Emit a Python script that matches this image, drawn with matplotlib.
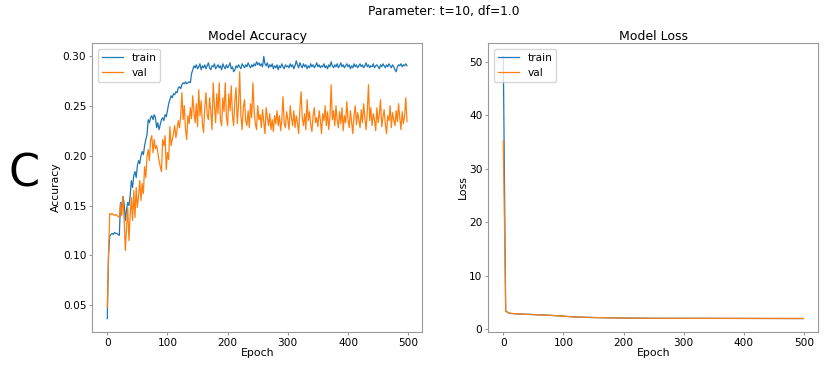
import numpy as np
import matplotlib
matplotlib.use('Agg')
import matplotlib.pyplot as plt

matplotlib.rcParams.update({'font.size': 7.6})

# accuracy, read every 2 epochs
epochs = np.arange(0, 500, 2)

train_acc = [
    0.0367, 0.100, 0.119, 0.121, 0.122, 0.121, 0.123, 0.122, 0.122, 0.121,
    0.120, 0.153, 0.148, 0.159, 0.152, 0.135, 0.146, 0.153, 0.150, 0.160,
    0.175, 0.168, 0.180, 0.184, 0.178, 0.190, 0.195, 0.192, 0.200, 0.204,
    0.201, 0.210, 0.216, 0.221, 0.236, 0.233, 0.238, 0.240, 0.236, 0.241,
    0.238, 0.228, 0.233, 0.226, 0.231, 0.236, 0.238, 0.235, 0.241, 0.239,
    0.245, 0.252, 0.256, 0.260, 0.258, 0.262, 0.261, 0.264, 0.263, 0.268,
    0.269, 0.267, 0.271, 0.273, 0.272, 0.274, 0.272, 0.273, 0.274, 0.273,
    0.282, 0.286, 0.290, 0.288, 0.291, 0.287, 0.289, 0.292, 0.286, 0.290,
    0.288, 0.291, 0.287, 0.290, 0.293, 0.288, 0.286, 0.290, 0.289, 0.292,
    0.287, 0.289, 0.291, 0.288, 0.290, 0.286, 0.292, 0.289, 0.287, 0.291,
    0.288, 0.290, 0.293, 0.287, 0.289, 0.284, 0.286, 0.290, 0.288, 0.291,
    0.289, 0.287, 0.292, 0.290, 0.288, 0.291, 0.289, 0.293, 0.290, 0.288,
    0.291, 0.289, 0.292, 0.290, 0.294, 0.291, 0.293, 0.290, 0.292, 0.289,
    0.2994, 0.292, 0.290, 0.293, 0.288, 0.291, 0.289, 0.292, 0.287, 0.290,
    0.288, 0.291, 0.286, 0.290, 0.288, 0.292, 0.289, 0.287, 0.291, 0.289,
    0.290, 0.288, 0.292, 0.289, 0.291, 0.287, 0.290, 0.295, 0.291, 0.288,
    0.293, 0.290, 0.288, 0.292, 0.289, 0.291, 0.287, 0.290, 0.288, 0.292,
    0.289, 0.291, 0.288, 0.290, 0.293, 0.289, 0.291, 0.288, 0.290, 0.289,
    0.292, 0.288, 0.290, 0.287, 0.291, 0.289, 0.294, 0.290, 0.288, 0.291,
    0.289, 0.292, 0.288, 0.290, 0.293, 0.289, 0.291, 0.288, 0.290, 0.292,
    0.289, 0.291, 0.287, 0.290, 0.288, 0.292, 0.289, 0.291, 0.288, 0.290,
    0.292, 0.289, 0.291, 0.288, 0.290, 0.293, 0.289, 0.291, 0.288, 0.290,
    0.289, 0.292, 0.288, 0.290, 0.291, 0.289, 0.287, 0.291, 0.289, 0.292,
    0.290, 0.288, 0.291, 0.289, 0.292, 0.290, 0.288, 0.291, 0.289, 0.286,
    0.284, 0.289, 0.291, 0.290, 0.292, 0.289, 0.291, 0.290, 0.292, 0.290,
]

val_acc = [
    0.048, 0.098, 0.142, 0.141, 0.142, 0.141, 0.140, 0.141, 0.140, 0.139,
    0.138, 0.152, 0.140, 0.159, 0.135, 0.105, 0.128, 0.148, 0.115, 0.140,
    0.158, 0.135, 0.165, 0.138, 0.168, 0.148, 0.160, 0.175, 0.155, 0.172,
    0.162, 0.189, 0.178, 0.199, 0.206, 0.195, 0.216, 0.220, 0.203, 0.216,
    0.207, 0.210, 0.203, 0.195, 0.189, 0.184, 0.216, 0.210, 0.220, 0.186,
    0.203, 0.196, 0.229, 0.210, 0.216, 0.222, 0.230, 0.218, 0.226, 0.235,
    0.228, 0.240, 0.263, 0.236, 0.250, 0.226, 0.216, 0.240, 0.232, 0.248,
    0.237, 0.260, 0.244, 0.233, 0.252, 0.229, 0.266, 0.240, 0.255, 0.232,
    0.223, 0.248, 0.263, 0.241, 0.236, 0.258, 0.245, 0.226, 0.273, 0.250,
    0.233, 0.262, 0.242, 0.273, 0.236, 0.230, 0.258, 0.244, 0.273, 0.238,
    0.230, 0.262, 0.245, 0.270, 0.240, 0.230, 0.255, 0.268, 0.232, 0.250,
    0.284, 0.240, 0.226, 0.248, 0.256, 0.235, 0.230, 0.245, 0.228, 0.252,
    0.238, 0.273, 0.245, 0.232, 0.226, 0.250, 0.236, 0.241, 0.228, 0.246,
    0.234, 0.222, 0.248, 0.238, 0.230, 0.242, 0.226, 0.236, 0.224, 0.240,
    0.232, 0.245, 0.230, 0.240, 0.225, 0.236, 0.259, 0.232, 0.228, 0.244,
    0.236, 0.226, 0.250, 0.238, 0.230, 0.245, 0.228, 0.240, 0.233, 0.222,
    0.246, 0.264, 0.238, 0.230, 0.242, 0.226, 0.256, 0.235, 0.244, 0.231,
    0.224, 0.240, 0.248, 0.233, 0.238, 0.229, 0.245, 0.236, 0.222, 0.242,
    0.235, 0.250, 0.230, 0.244, 0.226, 0.239, 0.271, 0.236, 0.245, 0.230,
    0.250, 0.236, 0.228, 0.244, 0.232, 0.248, 0.225, 0.240, 0.233, 0.254,
    0.236, 0.228, 0.245, 0.234, 0.222, 0.240, 0.250, 0.231, 0.243, 0.236,
    0.228, 0.246, 0.233, 0.252, 0.238, 0.226, 0.244, 0.271, 0.235, 0.248,
    0.230, 0.242, 0.236, 0.225, 0.248, 0.233, 0.241, 0.256, 0.229, 0.238,
    0.246, 0.232, 0.222, 0.240, 0.235, 0.250, 0.228, 0.243, 0.236, 0.230,
    0.245, 0.234, 0.252, 0.238, 0.226, 0.244, 0.232, 0.240, 0.258, 0.234,
]

# loss
loss_epochs = [0, 4, 10, 20, 40, 60, 80, 100, 120, 150, 200, 250, 300, 400, 499]
train_loss = [51.0, 3.4, 3.0, 2.9, 2.8, 2.7, 2.6, 2.45, 2.3, 2.2, 2.1, 2.05, 2.05, 2.03, 2.0]
val_loss = [35.3, 3.4, 3.0, 2.9, 2.8, 2.7, 2.6, 2.45, 2.3, 2.2, 2.1, 2.06, 2.05, 2.04, 2.03]

fig = plt.figure(figsize=(8.3, 3.66), dpi=100)
ax1 = fig.add_axes([0.1112, 0.0937, 0.3972, 0.788])
ax2 = fig.add_axes([0.5883, 0.0937, 0.3976, 0.788])

ax1.plot(epochs, train_acc, lw=0.9, label='train')
ax1.plot(epochs, val_acc, lw=0.9, label='val')
ax1.set_title('Model Accuracy', fontsize=9, pad=2.5)
ax1.set_xlabel('Epoch', fontsize=7.8, labelpad=0)
ax1.set_ylabel('Accuracy', fontsize=7.8, labelpad=1)
ax1.legend(loc='upper left', fontsize=7.6)

ax2.plot(loss_epochs, train_loss, lw=0.9, label='train')
ax2.plot(loss_epochs, val_loss, lw=0.9, label='val')
ax2.set_title('Model Loss', fontsize=9, pad=2.5)
ax2.set_xlabel('Epoch', fontsize=7.8, labelpad=0)
ax2.set_ylabel('Loss', fontsize=7.8, labelpad=1)
ax2.legend(loc='upper left', fontsize=7.6)

for ax in (ax1, ax2):
    ax.set_xticks([0, 100, 200, 300, 400, 500])
    for s in ax.spines.values():
        s.set_color('0.6')
    ax.tick_params(color='0.6', length=2.5, pad=1.8)

fig.suptitle('Parameter: t=10, df=1.0', x=0.535, y=0.985, fontsize=8.8)
fig.text(0.029, 0.525, 'C', fontsize=32, ha='center', va='center')

fig.savefig('out.png', dpi=100)
